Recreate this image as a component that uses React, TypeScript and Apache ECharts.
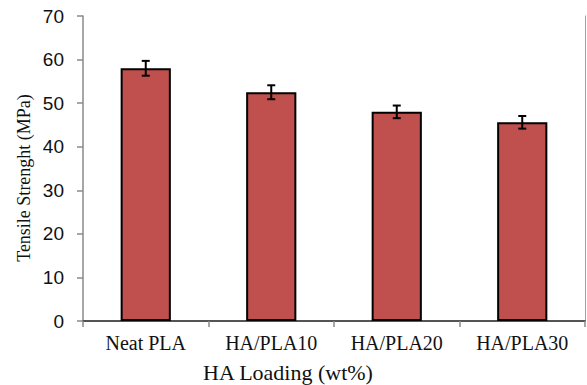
import React, { useEffect, useRef } from "react";
import * as echarts from "echarts";

const categories = ["Neat PLA", "HA/PLA10", "HA/PLA20", "HA/PLA30"];
const strength = [58.0, 52.5, 48.0, 45.6];
const errors = [1.7, 1.6, 1.45, 1.45];
const yTitle = "Tensile Strenght (MPa)";
const xTitle = "HA Loading (wt%)";

export default function App() {
  const ref = useRef<HTMLDivElement>(null);
  useEffect(() => {
    if (!ref.current) return;
    const chart = echarts.init(ref.current, null, { renderer: "svg" });
    const errData = strength.map((v, i) => [i, v - errors[i], v + errors[i]]);
    chart.setOption({
      animation: false,
      backgroundColor: "#ffffff",
      grid: { left: 83, top: 16, width: 502, height: 305, containLabel: false },
      xAxis: [
        {
          type: "category",
          data: categories,
          boundaryGap: true,
          axisLine: { show: true, lineStyle: { color: "#8a8a8a", width: 1.5 } },
          axisTick: { show: true, inside: false, length: 6, lineStyle: { color: "#8a8a8a", width: 1.5 } },
          axisLabel: {
            color: "#111",
            fontFamily: "Liberation Serif, Times New Roman, serif",
            fontSize: 20,
            margin: 12,
          },
          splitLine: { show: false },
        },
        {
          type: "category",
          data: categories,
          position: "top",
          axisLine: { show: true, lineStyle: { color: "#3a3a3a", width: 1.5 } },
          axisTick: { show: false },
          axisLabel: { show: false },
          splitLine: { show: false },
        },
      ],
      yAxis: [
        {
          type: "value",
          min: 0,
          max: 70,
          interval: 10,
          axisLine: { show: true, lineStyle: { color: "#8a8a8a", width: 1.5 } },
          axisTick: { show: true, inside: false, length: 6, lineStyle: { color: "#8a8a8a", width: 1.5 } },
          axisLabel: {
            color: "#111",
            fontFamily: "Liberation Sans, Arial, sans-serif",
            fontSize: 19,
            margin: 19,
          },
          splitLine: { show: false },
        },
        {
          type: "value",
          min: 0,
          max: 70,
          interval: 10,
          position: "right",
          axisLine: { show: true, lineStyle: { color: "#a0a0a0", width: 1 } },
          axisTick: { show: false },
          axisLabel: { show: false },
          splitLine: { show: false },
        },
      ],
      series: [
        {
          type: "bar",
          data: strength,
          barWidth: "40%",
          itemStyle: { color: "#C0504D", borderColor: "#000000", borderWidth: 2 },
        },
        {
          type: "custom",
          data: errData,
          z: 10,
          renderItem: (params: any, api: any) => {
            const x = api.value(0);
            const lo = api.coord([x, api.value(1)]);
            const hi = api.coord([x, api.value(2)]);
            const cap = 4;
            const style = { stroke: "#000", lineWidth: 2 };
            return {
              type: "group",
              children: [
                { type: "line", shape: { x1: lo[0], y1: lo[1], x2: hi[0], y2: hi[1] }, style },
                { type: "line", shape: { x1: hi[0] - cap, y1: hi[1], x2: hi[0] + cap, y2: hi[1] }, style },
                { type: "line", shape: { x1: lo[0] - cap, y1: lo[1], x2: lo[0] + cap, y2: lo[1] }, style },
              ],
            };
          },
        },
      ],
      graphic: [
        {
          type: "text",
          x: 288,
          y: 372,
          style: {
            text: xTitle,
            font: "22px 'Liberation Serif', 'Times New Roman', serif",
            fill: "#111",
            textAlign: "center",
            textVerticalAlign: "middle",
          },
        },
        {
          type: "text",
          x: 24,
          y: 178,
          rotation: Math.PI / 2,
          style: {
            text: yTitle,
            font: "18px 'Liberation Serif', 'Times New Roman', serif",
            fill: "#111",
            textAlign: "center",
            textVerticalAlign: "middle",
          },
        },
      ],
    });
    return () => chart.dispose();
  }, []);
  return (
    <div
      ref={ref}
      style={{ position: "fixed", left: 0, top: 0, width: 587, height: 385, background: "#fff" }}
    />
  );
}
